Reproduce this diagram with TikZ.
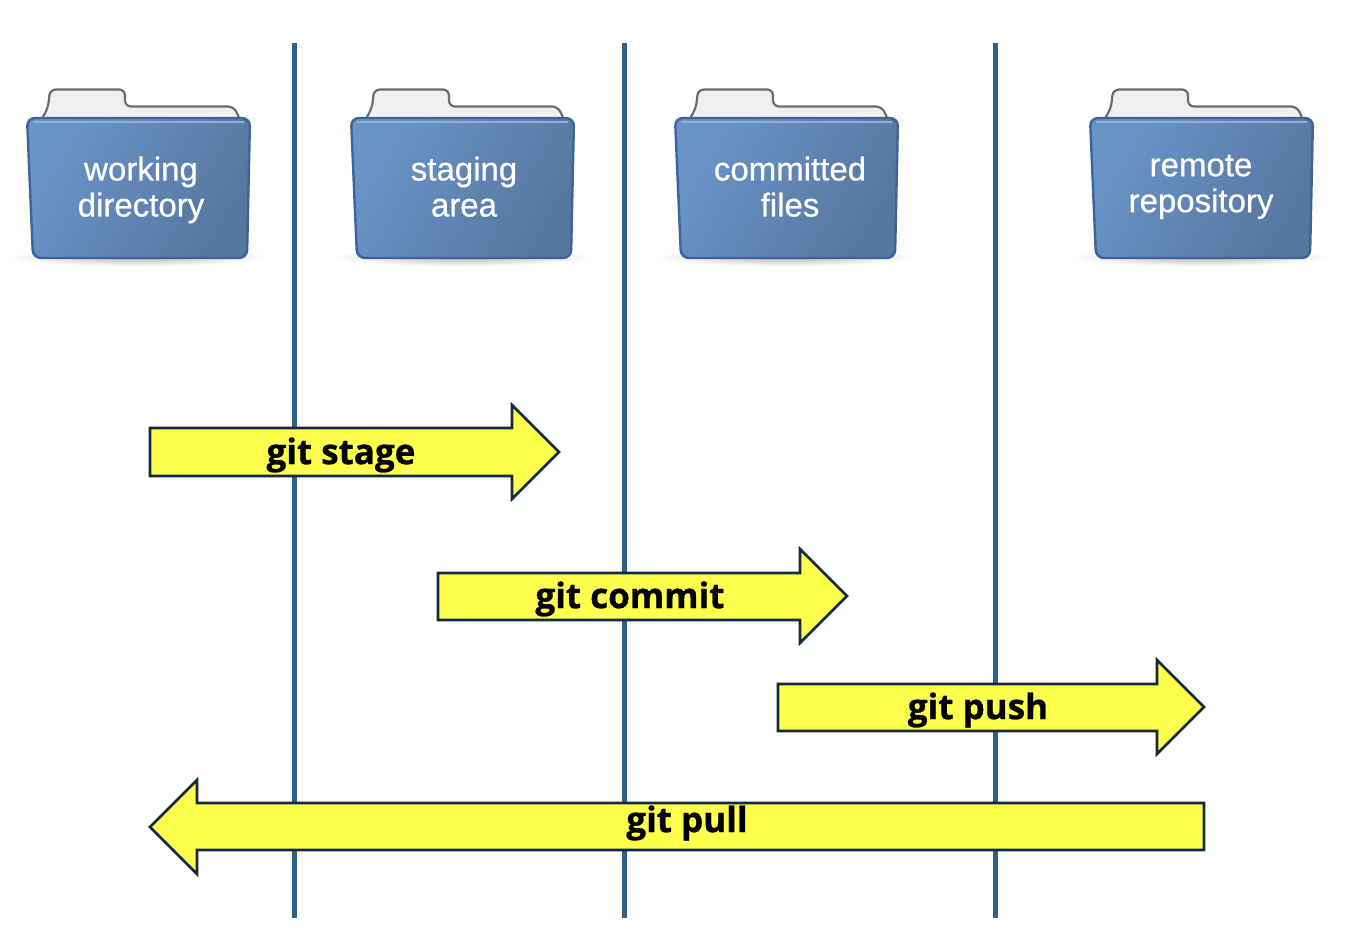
\documentclass[tikz,border=0pt]{standalone}
\usepackage{fontspec}
\setmainfont{Liberation Sans}[FakeBold=0.6]
\newfontfamily\arrowfont{Open Sans}[BoldFeatures={FakeBold=0.8}]
\definecolor{linecol}{HTML}{2F6087}
\definecolor{arrowedge}{HTML}{14293D}
\definecolor{arrowfill}{HTML}{FFFF4D}
\definecolor{foldertop}{HTML}{6A93C8}
\definecolor{folderlow}{HTML}{56779F}
\definecolor{folderedge}{HTML}{3F6596}
\tikzset{
  x=1pt,y=-1pt,
  divider/.style={draw=linecol,line width=5pt},
  blockarrow/.style={draw=arrowedge,fill=arrowfill,line width=2.6pt,line join=miter},
  arrowlabel/.style={font=\arrowfont\bfseries\fontsize{35}{40}\selectfont,text=black,inner sep=0pt},
  folderlabel/.style={font=\fontsize{33}{36}\selectfont,text=white,align=center,inner sep=0pt,text depth=0pt},
  folderfront/.style={draw=folderedge,line width=2.4pt,rounded corners=8pt,left color=foldertop,right color=folderlow,shading angle=60},
  folderback/.style={draw=gray!85!black,line width=2.2pt,fill=gray!12,rounded corners=6pt},
  foldershadow/.style={inner color=gray!60,outer color=white,draw=none},
  folderglow/.style={draw=foldertop!75!white,line width=1.2pt},
  pics/folder/.style={code={
    \path[foldershadow] (111,257) ellipse [x radius=128,y radius=9];
    \path[folderback] (13,122) -- (21,108) -- (23,89.5) -- (98,89.5) -- (98,106.5) -- (207,106.5) -- (214,122) -- cycle;
    \path[folderfront] (0,118) -- (223,118) -- (220,258) -- (6,258) -- cycle;
    \path[folderglow] (6,122) -- (217,122);
  }}
}
\begin{document}
\begin{tikzpicture}
\useasboundingbox (0,0) rectangle (1348,952);
\path[fill=white] (0,0) rectangle (1348,952);
\coordinate (d1t) at (294.5,43); \coordinate (d1b) at (294.5,918);
\coordinate (d2t) at (624.5,43); \coordinate (d2b) at (624.5,918);
\coordinate (d3t) at (995.5,43); \coordinate (d3b) at (995.5,918);
\draw[divider] (d1t) -- (d1b);
\draw[divider] (d2t) -- (d2b);
\draw[divider] (d3t) -- (d3b);
\pic at (27,0) {folder};
\pic at (351,0) {folder};
\pic at (675,0) {folder};
\pic at (1090,0) {folder};
\node[folderlabel] (wd) at (141,186.5) {working\\[0pt]directory};
\node[folderlabel] (sa) at (464,186.5) {staging\\[0pt]area};
\node[folderlabel] (cf) at (790,186.5) {committed\\[0pt]files};
\node[folderlabel] (rr) at (1201,183.5) {remote\\[0pt]repository};
\path[blockarrow] (150,428) -- (512,428) -- (512,405) -- (559,452) -- (512,499) -- (512,476) -- (150,476) -- cycle;
\path[blockarrow] (438,573) -- (800,573) -- (800,549) -- (847,596) -- (800,643) -- (800,620) -- (438,620) -- cycle;
\path[blockarrow] (778,684) -- (1157,684) -- (1157,660) -- (1204,707) -- (1157,754) -- (1157,731) -- (778,731) -- cycle;
\path[blockarrow] (1204,803) -- (197,803) -- (197,780) -- (150,827) -- (197,874) -- (197,850) -- (1204,850) -- cycle;
\node[arrowlabel] (gs) at (341,455) {git stage};
\node[arrowlabel] (gc) at (630,599) {git commit};
\node[arrowlabel] (gp) at (978,710) {git push};
\node[arrowlabel] (gl) at (687,823) {git pull};
\end{tikzpicture}
\end{document}
